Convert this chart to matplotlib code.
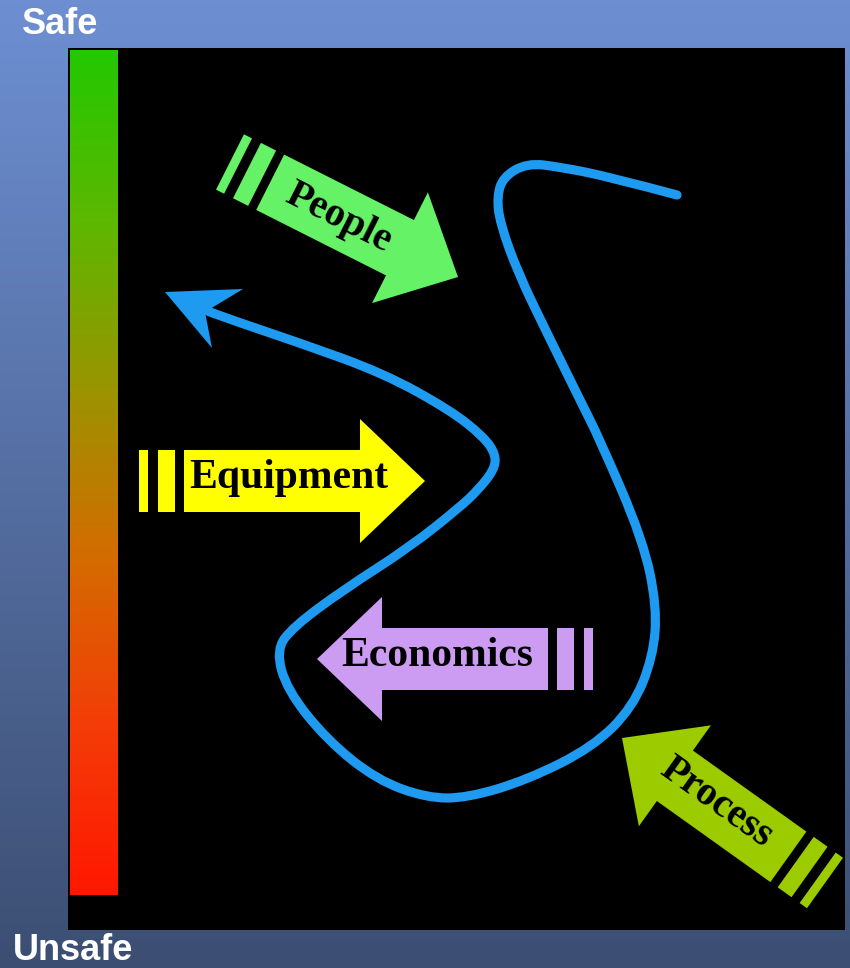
"""Safe/Unsafe drift diagram: gradient scale, four forcing arrows and a wandering path."""

import numpy as np
import matplotlib
matplotlib.use("Agg")
import matplotlib.pyplot as plt
from matplotlib.path import Path
from matplotlib.patches import PathPatch, Polygon, Rectangle
from matplotlib.colors import LinearSegmentedColormap

W, H = 850, 968  # canvas in pixels, y grows downward

# scale labels
scale_top = "Safe"
scale_bottom = "Unsafe"
scale_colors = ["#22c800", "#5cb800", "#9a9400", "#d46c00", "#f43c08", "#ff1800"]

# forcing arrows: label, fill, tail point, tip point
arrow_labels = ["People", "Equipment", "Economics", "Process"]
arrow_colors = ["#66f266", "#ffff00", "#cc9cf2", "#9ccc00"]
arrow_tails = [(230, 162), (139, 481), (593, 659), (825, 883)]
arrow_tips = [(458, 277), (425, 481), (317, 659), (622, 738)]
label_centers = [(339, 218), (289, 478), (437, 656), (716, 803)]
label_sizes = [29, 30, 30, 29]

# traced path of the blue line, from the arrowhead to the loose end
path_x = [205, 217, 300, 383, 450, 484, 496, 494, 478, 460, 410, 343, 293,
          276, 287, 327, 377, 427, 467, 527, 593, 633, 653, 657, 643, 600,
          580, 547, 518, 500, 497, 503, 527, 560, 610, 677]
path_y = [310, 315, 343, 373, 410, 437, 455, 470, 490, 507, 547, 590, 627,
          650, 690, 740, 780, 798, 798, 780, 747, 707, 657, 607, 540, 440,
          400, 333, 273, 223, 197, 177, 163, 167, 177, 195]
head_x = [165, 243, 205, 212]
head_y = [292, 289, 312, 348]

BLUE = "#1e9bf0"


def block_arrow(ax, tail, tip, color):
    tail = np.array(tail, float)
    tip = np.array(tip, float)
    L = np.linalg.norm(tip - tail)
    d = (tip - tail) / L
    n = np.array([-d[1], d[0]])
    hw, HW, hl, s0 = 31, 62, 65, 45

    def to_xy(pts):
        return [tuple(tail + u * d + v * n) for u, v in pts]

    body = [(s0, -hw), (L - hl, -hw), (L - hl, -HW), (L, 0),
            (L - hl, HW), (L - hl, hw), (s0, hw)]
    ax.add_patch(Polygon(to_xy(body), closed=True, fc=color, ec="none", zorder=3))
    for a, b in ((0, 9), (19, 36)):
        bar = [(a, -hw), (b, -hw), (b, hw), (a, hw)]
        ax.add_patch(Polygon(to_xy(bar), closed=True, fc=color, ec="none", zorder=3))
    ang = np.degrees(np.arctan2(-d[1], d[0]))
    if ang > 90:
        ang -= 180
    elif ang <= -90:
        ang += 180
    return ang


def main():
    fig = plt.figure(figsize=(W / 100, H / 100), dpi=100)
    ax = fig.add_axes([0, 0, 1, 1])
    ax.set_xlim(0, W)
    ax.set_ylim(H, 0)
    ax.axis("off")

    # slide background
    bg = LinearSegmentedColormap.from_list("bg", ["#6d8fd2", "#3c4e72"])
    ax.imshow(np.linspace(0, 1, 256).reshape(-1, 1), cmap=bg, aspect="auto",
              extent=(0, W, H, 0), zorder=0)
    ax.add_patch(Rectangle((68, 48), 777, 882, fc="black", ec="none", zorder=1))

    # safe -> unsafe scale
    sc = LinearSegmentedColormap.from_list("scale", scale_colors)
    ax.imshow(np.linspace(0, 1, 256).reshape(-1, 1), cmap=sc, aspect="auto",
              extent=(70, 118, 895, 50), zorder=2)
    ax.set_xlim(0, W)
    ax.set_ylim(H, 0)

    sans = ["Liberation Sans", "DejaVu Sans"]
    ax.text(22, 24, scale_top, color="white", fontsize=26, fontweight="bold",
            family=sans, ha="left", va="center", zorder=5)
    ax.text(13, 951, scale_bottom, color="white", fontsize=26, fontweight="bold",
            family=sans, ha="left", va="center", zorder=5)

    serif = ["Liberation Serif", "DejaVu Serif"]
    for lab, col, t0, t1, c, fs in zip(arrow_labels, arrow_colors, arrow_tails,
                                       arrow_tips, label_centers, label_sizes):
        rot = block_arrow(ax, t0, t1, col)
        ax.text(c[0], c[1], lab, color="black", fontsize=fs, fontweight="bold",
                family=serif, ha="center", va="center", rotation=rot,
                rotation_mode="anchor", zorder=4)

    # blue wandering line, smoothed through the traced points
    pts = list(zip(path_x, path_y))
    verts = [pts[0]]
    codes = [Path.MOVETO]
    for i in range(1, len(pts) - 1):
        if i < len(pts) - 2:
            end = ((pts[i][0] + pts[i + 1][0]) / 2, (pts[i][1] + pts[i + 1][1]) / 2)
        else:
            end = pts[-1]
        verts += [pts[i], end]
        codes += [Path.CURVE3, Path.CURVE3]
    ax.add_patch(PathPatch(Path(verts, codes), fill=False, ec=BLUE, lw=6.6,
                           capstyle="round", joinstyle="round", zorder=3))
    ax.add_patch(Polygon(list(zip(head_x, head_y)), closed=True, fc=BLUE,
                         ec="none", zorder=3))

    fig.savefig("out.png", dpi=100)


if __name__ == "__main__":
    main()
